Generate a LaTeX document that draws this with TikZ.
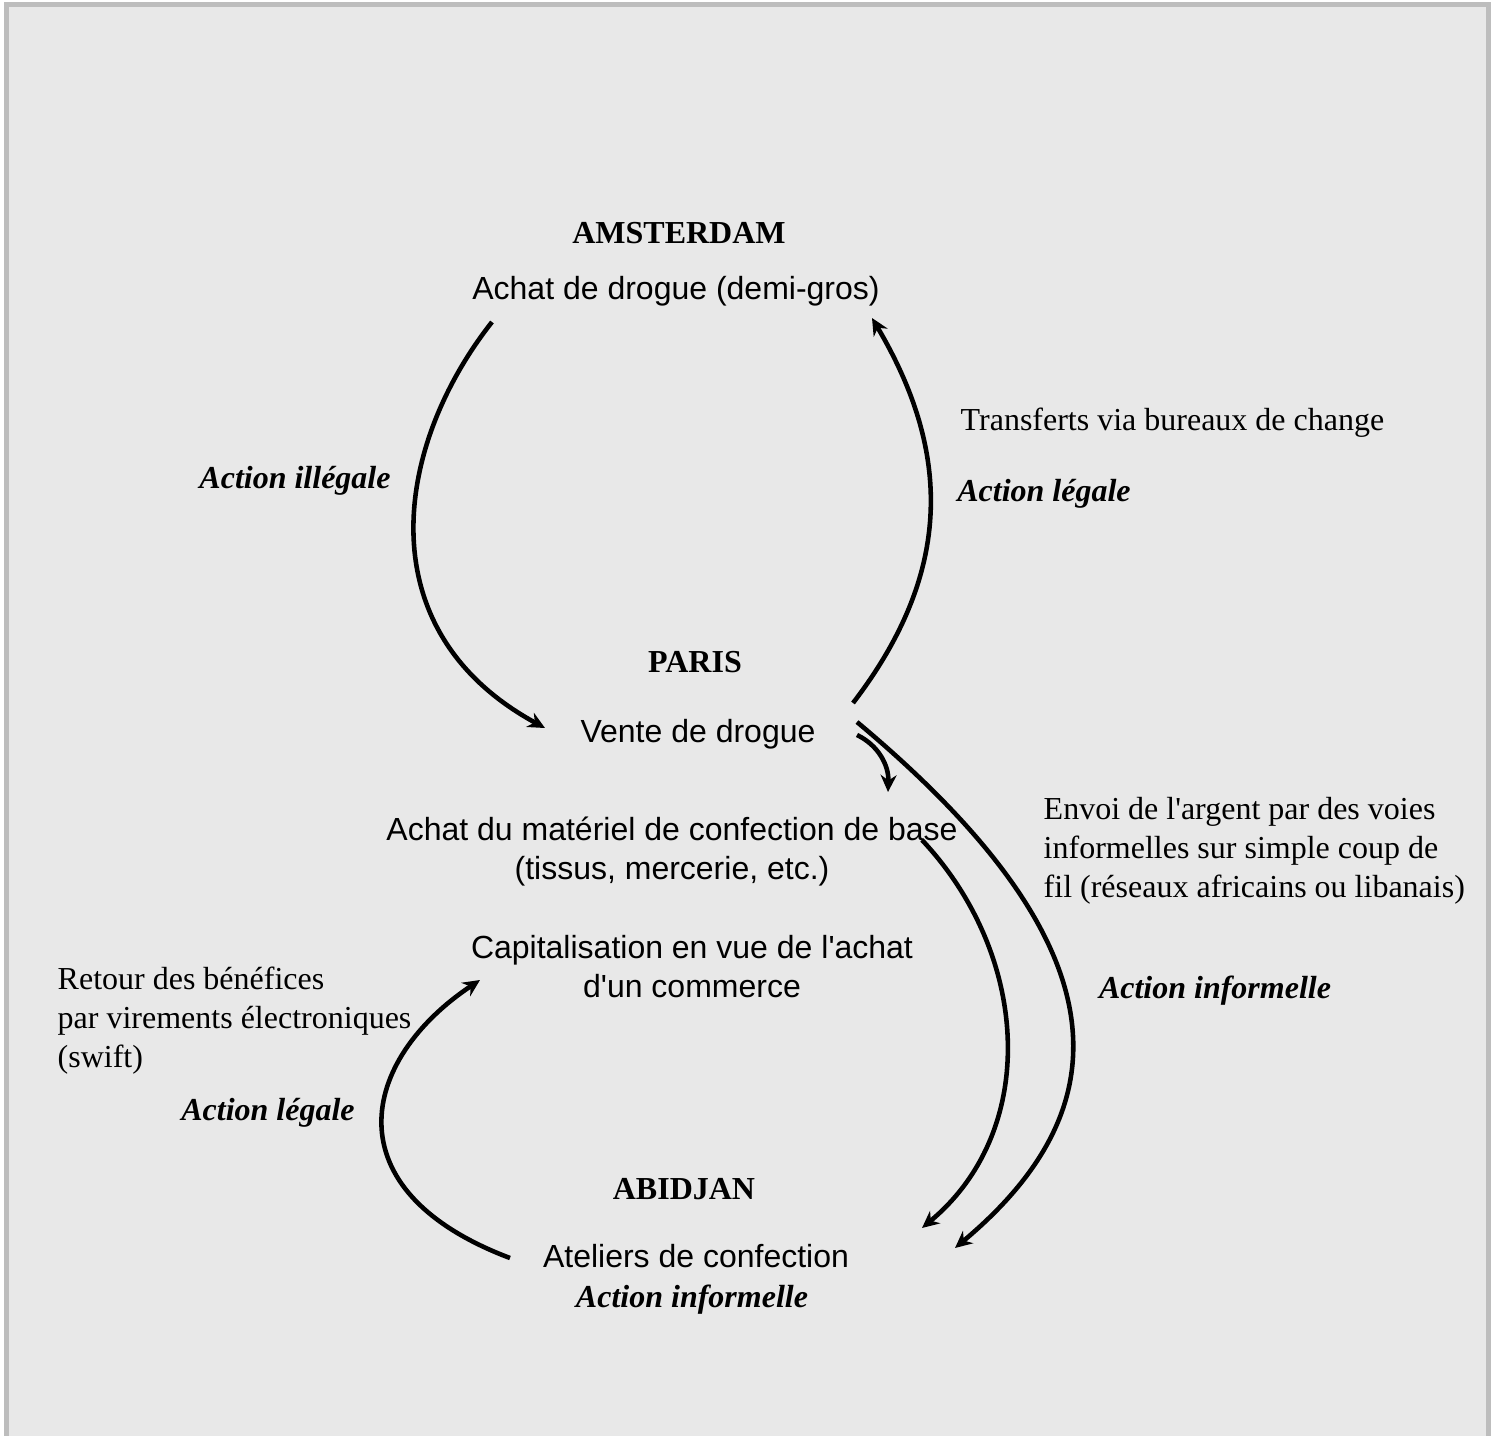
\documentclass[tikz,border=0pt]{standalone}
\usepackage{fontspec}
\setmainfont{Liberation Serif}
\newfontfamily\arialfont{Liberation Sans}
\usepackage{tikz}
\usetikzlibrary{positioning, arrows.meta, shapes}
\definecolor{fond}{RGB}{232, 232, 232}
\definecolor{cadre}{RGB}{189, 189, 189}
\tikzset{
    ville/.style={inner sep=0pt, anchor=base, font=\fontsize{9.1}{11}\selectfont\bfseries},
    activite/.style={inner sep=0pt, anchor=base, align=center, font=\fontsize{9.1}{11}\selectfont\arialfont},
    action/.style={inner sep=0pt, anchor=base, font=\fontsize{9.1}{11}\selectfont\bfseries\itshape},
    remarque/.style={inner sep=0pt, anchor=base west, align=left, font=\fontsize{9.1}{11}\selectfont},
    conn/.style={-{Stealth[length=0.17cm, width=0.16cm]}, line width=1.3pt},
}

\begin{document}
\begin{tikzpicture}[x=0.01cm, y=-0.01cm]
        \useasboundingbox (0,0) rectangle (1496,1436);
        \fill[white] (0,0) rectangle (1496,1436);
        \filldraw[fill=fond, draw=cadre, line width=0.05cm] (6.5,4.5) rectangle (1488.5,1440);

        \node[ville] (amsterdam) at (679,243) {AMSTERDAM};
        \node[activite] (achatDrogue) at (676,299) {Achat de drogue (demi-gros)};
        \node[remarque] (transferts) at (960,430) {Transferts via bureaux de change};
        \node[action] (illegale) at (295,488) {Action illégale};
        \node[action] (legaleHaut) at (1044,501) {Action légale};

        \node[ville] (paris) at (695,672) {PARIS};
        \node[activite] (vente) at (698,742) {Vente de drogue};
        \node[activite] (materiel) at (672,879) {Achat du matériel de confection de base\\(tissus, mercerie, etc.)};
        \node[remarque] (envoi) at (1043,897) {Envoi de l\textquotesingle argent par des voies\\informelles sur simple coup de\\fil (réseaux africains ou libanais)};
        \node[activite] (capital) at (692,997) {Capitalisation en vue de l'achat\\d'un commerce};
        \node[remarque] (retour) at (57,1067) {Retour des bénéfices\\par virements électroniques\\(swift)};
        \node[action] (legaleBas) at (268,1120) {Action légale};
        \node[action] (informelleDroite) at (1215,998) {Action informelle};

        \node[ville] (abidjan) at (684,1199) {ABIDJAN};
        \node[activite] (ateliers) at (696,1267) {Ateliers de confection};
        \node[action] (informelleBas) at (692,1307) {Action informelle};

        \coordinate (amsDepart) at (492,322);
        \coordinate (amsArrivee) at (872,318);
        \coordinate (parisArrivee) at (545,728);
        \coordinate (parisDepart) at (853,703);
        \coordinate (venteDepart) at (857,735);
        \coordinate (materielArrivee) at (888,792);
        \coordinate (materielDepart) at (922,840);
        \coordinate (envoiDepart) at (857,722);
        \coordinate (abiArrivee) at (922,1228);
        \coordinate (abiArriveeB) at (955,1248);
        \coordinate (abiDepart) at (510,1258);
        \coordinate (capitalArrivee) at (480,980);

        \draw[conn] (amsDepart) .. controls (395,445) and (365,630) .. (parisArrivee);
        \draw[conn] (parisDepart) .. controls (955,570) and (950,450) .. (amsArrivee);
        \draw[conn] (venteDepart) .. controls (878,745) and (889,765) .. (materielArrivee);
        \draw[conn] (materielDepart) .. controls (1030,955) and (1040,1130) .. (abiArrivee);
        \draw[conn] (envoiDepart) .. controls (1130,950) and (1120,1110) .. (abiArriveeB);
        \draw[conn] (abiDepart) .. controls (330,1190) and (360,1060) .. (capitalArrivee);
\end{tikzpicture}
\end{document}
